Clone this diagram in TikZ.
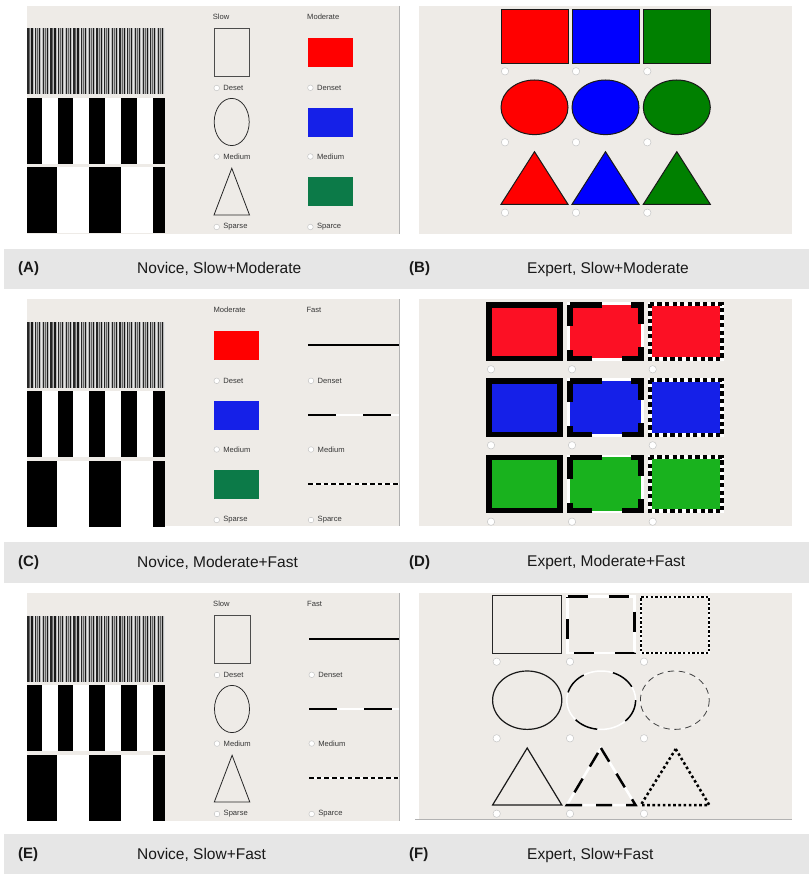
\documentclass[tikz,border=0pt]{standalone}
\usepackage{fontspec}
\setmainfont{Liberation Sans}
\definecolor{panelbg}{RGB}{238,235,231}
\definecolor{barbg}{RGB}{230,230,230}
\definecolor{mred}{RGB}{255,0,0}
\definecolor{mblue}{RGB}{21,32,232}
\definecolor{mgreen}{RGB}{12,122,72}
\definecolor{bred}{RGB}{255,0,0}
\definecolor{bblue}{RGB}{0,0,255}
\definecolor{bgreen}{RGB}{0,128,0}
\definecolor{dred}{RGB}{252,16,36}
\definecolor{dblue}{RGB}{21,32,232}
\definecolor{dgreen}{RGB}{25,178,30}
\definecolor{txtc}{RGB}{55,55,55}

% stripe block of the novice panels, #1 = panel top
\newcommand\stripeblock[1]{%
  \fill[gray!55] (27,#1+22.5) rectangle (165.3,#1+88.5);
  \foreach \k in {0,...,17}{%
    \fill[black!85] ({27.3+7.68*\k},#1+22.5) rectangle ++(1.3,66);
    \fill[black!60] ({29.4+7.68*\k},#1+22.5) rectangle ++(1.0,66);
    \fill[black!90] ({31.4+7.68*\k},#1+22.5) rectangle ++(1.1,66);
    \fill[gray!20] ({33.5+7.68*\k},#1+22.5) rectangle ++(1.0,66);
  }
  \fill[white] (27,#1+92) rectangle (165.3,#1+158);
  \foreach \a/\b in {27/41.5,57.5/73.3,89.3/105,121/136.7,152.7/165.3}
    \fill[black] (\a,#1+92) rectangle (\b,#1+158);
  \fill[white] (27,#1+161.5) rectangle (165.3,#1+227.5);
  \foreach \a/\b in {27/57,89/120.5,152.5/165.3}
    \fill[black] (\a,#1+161.5) rectangle (\b,#1+227.5);
}

% Slow column: #1 prefix, #2 X, #3 top
\newcommand\slowcolumn[3]{%
  \node[hdr] (#1sh) at (#2-1.3,#3+10.8) {Slow};
  \draw[gray!60!black,line width=0.8] (#2,#3+22.7) rectangle (#2+35.7,#3+70.3);
  \node[radio] (#1s1) at (#2+2.7,#3+82) {};
  \node[lbl] (#1sl1) at (#2+9.2,#3+82) {Deset};
  \draw[black!85,line width=0.75] (#2+17.7,#3+116) ellipse [x radius=17.5,y radius=23.6];
  \node[radio] (#1s2) at (#2+2.7,#3+150.6) {};
  \node[lbl] (#1sl2) at (#2+9.2,#3+150.6) {Medium};
  \draw[black!85,line width=0.8] (#2+17.8,#3+162.3) -- (#2+35.5,#3+209) -- (#2,#3+209) -- cycle;
  \node[radio] (#1s3) at (#2+2.7,#3+221) {};
  \node[lbl] (#1sl3) at (#2+9.2,#3+221) {Sparse};
}

% Moderate column: #1 prefix, #2 X, #3 top, #4-#6 labels
\newcommand\modcolumn[6]{%
  \node[hdr] (#1mh) at (#2-0.7,#3+10.8) {Moderate};
  \fill[mred] (#2,#3+32) rectangle (#2+45.3,#3+61);
  \node[radio] (#1m1) at (#2+2.7,#3+81.8) {};
  \node[lbl] (#1ml1) at (#2+9.2,#3+81.8) {#4};
  \fill[mblue] (#2,#3+101.7) rectangle (#2+45.3,#3+130.7);
  \node[radio] (#1m2) at (#2+2.7,#3+150.5) {};
  \node[lbl] (#1ml2) at (#2+9.2,#3+150.5) {#5};
  \fill[mgreen] (#2,#3+171) rectangle (#2+45.3,#3+200.2);
  \node[radio] (#1m3) at (#2+2.7,#3+221) {};
  \node[lbl] (#1ml3) at (#2+9.2,#3+221) {#6};
}

% Fast column: #1 prefix, #2 X, #3 top
\newcommand\fastcolumn[3]{%
  \node[hdr] (#1fh) at (#2-2,#3+10.8) {Fast};
  \draw[black,line width=2] (#2,#3+46.3) -- (399,#3+46.3);
  \node[radio] (#1f1) at (#2+2.7,#3+81.8) {};
  \node[lbl] (#1fl1) at (#2+9.2,#3+81.8) {Denset};
  \draw[white,line width=2] (#2,#3+115.5) -- (399,#3+115.5);
  \draw[black,line width=2,dash pattern=on 27.6pt off 27.4pt] (#2,#3+115.5) -- (399,#3+115.5);
  \node[radio] (#1f2) at (#2+2.7,#3+150.5) {};
  \node[lbl] (#1fl2) at (#2+9.2,#3+150.5) {Medium};
  \draw[white,line width=2.2] (#2,#3+185) -- (399,#3+185);
  \draw[black,line width=2.2,dash pattern=on 4.6pt off 3.1pt] (#2,#3+185) -- (399,#3+185);
  \node[radio] (#1f3) at (#2+2.7,#3+221) {};
  \node[lbl] (#1fl3) at (#2+9.2,#3+221) {Sparce};
}

\begin{document}
\begin{tikzpicture}[x=1pt,y=-1pt,
  radio/.style={circle,fill=white,draw=gray!45,line width=0.5pt,inner sep=0pt,minimum size=5.6pt},
  bigradio/.style={radio,minimum size=7.4pt},
  hdr/.style={anchor=west,inner sep=0pt,font=\fontsize{7.6}{8}\selectfont,text=txtc},
  lbl/.style={anchor=west,inner sep=0pt,font=\fontsize{7.6}{8}\selectfont,text=txtc},
  tagtxt/.style={anchor=west,inner sep=0pt,font=\fontsize{15}{17}\selectfont\bfseries,text=black!90},
  captxt/.style={anchor=west,inner sep=0pt,font=\fontsize{15.5}{17}\selectfont,text=black!90},
  shp/.style={draw=black!90,line width=1pt}
]
\useasboundingbox (0,0) rectangle (809,874);
\fill[white] (0,0) rectangle (809,874);

% panel backgrounds
\fill[panelbg] (27,6) rectangle (399,234);
\fill[panelbg] (419,6) rectangle (792,234);
\fill[panelbg] (27,299) rectangle (399,526);
\fill[panelbg] (419,299) rectangle (792,526);
\fill[panelbg] (27,593) rectangle (399,821);
\fill[panelbg] (419,593) rectangle (792,819);
\draw[gray!60,line width=0.8] (399.5,6) -- (399.5,234);
\draw[gray!60,line width=0.8] (399.5,299) -- (399.5,526);
\draw[gray!60,line width=0.8] (399.5,593) -- (399.5,821);
\draw[gray!60,line width=0.8] (415,819.5) -- (792,819.5);

% ---------- (A) ----------
\stripeblock{6}
\slowcolumn{A}{214}{6}
\modcolumn{A}{307.7}{6}{Denset}{Medium}{Sparce}

% ---------- (B) ----------
\foreach \c/\col [count=\j] in {501/bred,572/bblue,643.3/bgreen}{
  \draw[shp,fill=\col] (\c,10) rectangle ++(67,53.7);
  \node[bigradio] (B1\j) at (\c+4,71.3) {};
  \draw[shp,fill=\col] (\c+33.5,107.3) ellipse [x radius=33.5,y radius=27.3];
  \node[bigradio] (B2\j) at (\c+4,142.3) {};
  \draw[shp,fill=\col] (\c+33.5,151.7) -- (\c+67,204.3) -- (\c,204.3) -- cycle;
  \node[bigradio] (B3\j) at (\c+4,212.7) {};
}

% ---------- (C) ----------
\stripeblock{299}
\modcolumn{C}{214}{299}{Deset}{Medium}{Sparse}
\fastcolumn{C}{308.3}{299}

% ---------- (D) ----------
\foreach \r/\T/\col in {1/302.3/dred,2/378.3/dblue,3/454.7/dgreen}{
  \fill[\col] (488.75,\T+2.75) rectangle (559.75,\T+55.95);
  \draw[black,line width=5.5pt] (488.75,\T+2.75) rectangle (559.75,\T+55.95);
  \node[bigradio] (D\r a) at (491,\T+67) {};
  \fill[\col] (569.7,\T+2.7) rectangle (640.8,\T+56);
  \draw[white,line width=2.7pt] (568.35,\T+1.35) rectangle (642.15,\T+57.35);
  \draw[black,line width=5.5pt,dash pattern=on 32pt off 29.5pt on 28.5pt off 23pt on 30pt off 29.7pt on 30.6pt off 24pt on 30pt off 10pt]
    (569.75,\T+2.75) -- (640.75,\T+2.75) -- (640.75,\T+55.95) -- (569.75,\T+55.95) -- cycle;
  \node[bigradio] (D\r b) at (572,\T+67) {};
  \fill[\col] (651.7,\T+4) rectangle (720.2,\T+54.7);
  \draw[white,line width=4pt] (649.7,\T+2) rectangle (722.2,\T+56.7);
  \draw[black,line width=4pt,dash pattern=on 4.3pt off 3.3pt]
    (649.7,\T+2) -- (722.2,\T+2) -- (722.2,\T+56.7) -- (649.7,\T+56.7) -- cycle;
  \node[bigradio] (D\r c) at (652.7,\T+67) {};
}

% ---------- (E) ----------
\stripeblock{593}
\slowcolumn{E}{214.3}{593}
\fastcolumn{E}{309}{593}

% ---------- (F) ----------
% rectangles
\draw[black!85,line width=1.3pt] (492.3,595.7) rectangle (561.8,653.7);
\draw[white,line width=2.2pt] (567.5,596.5) rectangle (634.5,653);
\draw[black,line width=2.2pt,dash pattern=on 20pt off 21pt]
  (567.5,596.5) -- (634.5,596.5) -- (634.5,653) -- (567.5,653) -- cycle;
\draw[white,line width=2pt] (641.3,596.5) rectangle (708.7,653);
\draw[black,line width=2pt,dash pattern=on 2.4pt off 2.2pt]
  (641.3,596.5) -- (708.7,596.5) -- (708.7,653) -- (641.3,653) -- cycle;
% ellipses
\draw[black!90,line width=1.2pt] (527.2,700.2) ellipse [x radius=34.6,y radius=29.2];
\draw[white,line width=1.5pt] (601.2,700.2) ellipse [x radius=34.4,y radius=29.2];
\draw[black,line width=1.5pt,dash pattern=on 24pt off 30pt] (601.2,700.2) ellipse [x radius=34.4,y radius=29.2];
\draw[white!60!panelbg,line width=0.8pt] (674.8,700.2) ellipse [x radius=34.4,y radius=29.2];
\draw[black!75,line width=0.8pt,dash pattern=on 6.5pt off 4.5pt] (674.8,700.2) ellipse [x radius=34.4,y radius=29.2];
% triangles
\draw[black!90,line width=1.2pt] (527.2,748) -- (561.8,805) -- (492.6,805) -- cycle;
\draw[white,line width=2.5pt] (600.9,748) -- (635.5,805) -- (566.9,805) -- cycle;
\draw[black,line width=2.5pt,dash pattern=on 16pt off 14pt] (600.9,748) -- (635.5,805) -- (566.9,805) -- cycle;
\draw[black,line width=2.5pt,dash pattern=on 2.6pt off 2.6pt] (675.7,749) -- (709.3,805) -- (640.8,805) -- cycle;
% radios
\foreach \x [count=\j] in {496.7,570,644}{
  \node[bigradio] (F1\j) at (\x,661.7) {};
  \node[bigradio] (F2\j) at (\x,738.3) {};
  \node[bigradio] (F3\j) at (\x,813.7) {};
}

% ---------- caption bars ----------
\fill[barbg] (4,249) rectangle (809,289);
\node[tagtxt] (tA) at (18,269) {(A)};
\node[captxt] (cA) at (137,269) {Novice, Slow+Moderate};
\node[tagtxt] (tB) at (409,269) {(B)};
\node[captxt] (cB) at (527,269) {Expert, Slow+Moderate};

\fill[barbg] (4,542) rectangle (809,583);
\node[tagtxt] (tC) at (18,562.5) {(C)};
\node[captxt] (cC) at (137,562.5) {Novice, Moderate+Fast};
\node[tagtxt] (tD) at (409,562.5) {(D)};
\node[captxt] (cD) at (527,562.5) {Expert, Moderate+Fast};

\fill[barbg] (4,834) rectangle (809,874);
\node[tagtxt] (tE) at (18,855) {(E)};
\node[captxt] (cE) at (137,855) {Novice, Slow+Fast};
\node[tagtxt] (tF) at (409,855) {(F)};
\node[captxt] (cF) at (527,855) {Expert, Slow+Fast};
\end{tikzpicture}
\end{document}
